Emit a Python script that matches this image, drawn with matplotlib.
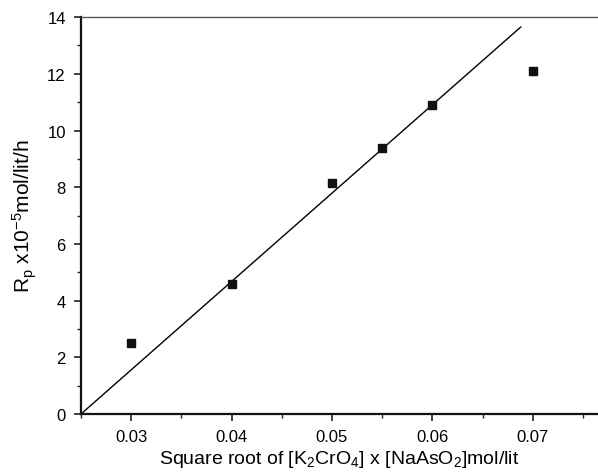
import matplotlib
matplotlib.use('Agg')
import matplotlib.pyplot as plt
from matplotlib.ticker import MultipleLocator

plt.rcParams['font.family'] = ['Liberation Sans', 'DejaVu Sans']
plt.rcParams['mathtext.default'] = 'regular'

# data
conc = [0.030, 0.040, 0.050, 0.055, 0.060, 0.070]
rate = [2.5, 4.6, 8.15, 9.4, 10.9, 12.1]
fit_x = [0.025, 0.0688]
fit_y = [0.0, 13.65]

fig = plt.figure(figsize=(5.98, 4.77), dpi=100)
ax = fig.add_axes([0.1355, 0.13, 0.8645, 0.832])

ax.plot(fit_x, fit_y, color='black', linewidth=1.0)
ax.plot(conc, rate, linestyle='none', marker='s', markersize=6,
        color='#111111')

ax.set_xlim(0.025, 0.0765)
ax.set_ylim(0, 14)
ax.xaxis.set_minor_locator(MultipleLocator(0.005))
ax.yaxis.set_major_locator(MultipleLocator(2))
ax.yaxis.set_minor_locator(MultipleLocator(1))
ax.set_xticks([0.03, 0.04, 0.05, 0.06, 0.07])
ax.set_xticklabels(['0.03', '0.04', '0.05', '0.06', '0.07'])

ax.tick_params(which='major', direction='out', length=5, width=1.2,
               labelsize=12, color='#222222', pad=6)
ax.tick_params(which='minor', direction='out', length=3, width=1.0,
               color='#222222')

for s in ['left', 'bottom']:
    ax.spines[s].set_linewidth(1.6)
    ax.spines[s].set_color('#111111')
ax.spines['top'].set_linewidth(1.0)
ax.spines['top'].set_color('#555555')
ax.spines['right'].set_visible(False)

ax.set_xlabel('Square root of [K$_2$CrO$_4$] x [NaAsO$_2$]mol/lit',
              fontsize=14, labelpad=3)
ax.set_ylabel('R$_p$ x10$^{-5}$mol/lit/h', fontsize=15, labelpad=6)

fig.savefig('out.png', dpi=100)
